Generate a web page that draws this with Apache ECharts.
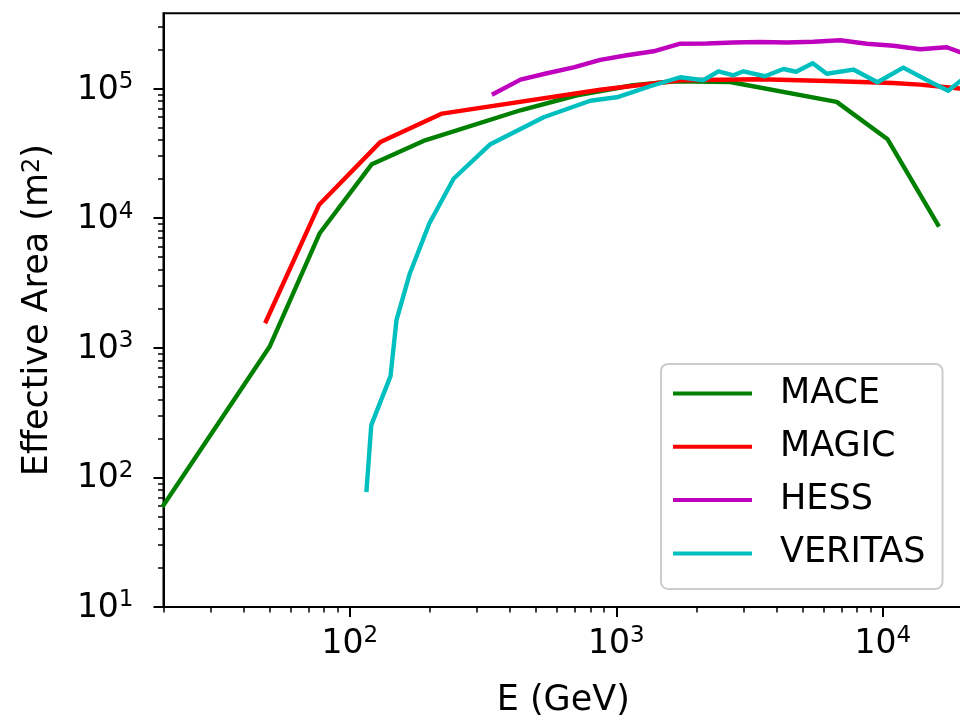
<!DOCTYPE html>
<html>
<head>
<meta charset="utf-8">
<script src="https://cdn.jsdelivr.net/npm/echarts@6/dist/echarts.min.js"></script>
<style>
  html, body { margin: 0; padding: 0; background: #ffffff; }
  #chart { width: 960px; height: 720px; }
</style>
</head>
<body>
<div id="chart"></div>
<script>
// Effective collection area of ground-based gamma-ray telescopes
const seriesNames = ['MACE', 'MAGIC', 'HESS', 'VERITAS'];
const seriesColors = ['#008000', '#ff0000', '#bf00bf', '#00bfbf'];

const maceE = [20, 50, 77, 121, 189, 437, 712, 1158, 1664, 2675, 6714, 10430, 16100];
const maceA = [61, 1016, 7600, 26060, 39370, 67900, 88640, 105900, 113600, 112200, 78800, 40550, 8900];

const magicE = [48.5, 76.6, 130.4, 222, 871, 1738, 3465, 6730, 10910, 13770, 19470, 22000];
const magicA = [1600, 12600, 38700, 63960, 97700, 115700, 117800, 113600, 110300, 107100, 99800, 98500];

const hessE = [347, 437, 550, 692, 871, 1096, 1380, 1738, 2188, 2754, 3467, 4365, 5495, 6918, 8710, 10965, 13804, 17378, 21878];
const hessA = [91000, 117100, 131000, 145600, 166300, 180300, 193600, 221300, 222000, 226000, 228300, 226000, 229000, 235300, 221300, 213400, 200500, 207800, 175300];

const veritasE = [115.6, 120.4, 142.2, 149.7, 168, 199, 245.6, 337, 534, 799, 1017, 1341, 1738, 2119, 2418, 2753, 3000, 3614, 4236, 4728, 5462, 6163, 7753, 9553, 11940, 15420, 17600, 21230];
const veritasA = [80, 253, 604, 1632, 3741, 9135, 20200, 37150, 59980, 80350, 86000, 104000, 122000, 115700, 135700, 126400, 135700, 124200, 141300, 134500, 156400, 129800, 139900, 111600, 144900, 109700, 96000, 130900];

// Axis ranges and tick positions
const xRange = [20, 20000];
const yRange = [10, 380000];
const xMajorTicks = [100, 1000, 10000];
const xMinorTicks = [20, 30, 40, 50, 60, 70, 80, 90,
  200, 300, 400, 500, 600, 700, 800, 900,
  2000, 3000, 4000, 5000, 6000, 7000, 8000, 9000, 20000];
const yMajorTicks = [10, 100, 1000, 10000, 100000];
const yMinorTicks = [20, 30, 40, 50, 60, 70, 80, 90,
  200, 300, 400, 500, 600, 700, 800, 900,
  2000, 3000, 4000, 5000, 6000, 7000, 8000, 9000,
  20000, 30000, 40000, 50000, 60000, 70000, 80000, 90000,
  200000, 300000];

const FONT = 'DejaVu Sans';
const pairs = (xs, ys) => xs.map((x, i) => [x, ys[i]]);
const seriesData = [pairs(maceE, maceA), pairs(magicE, magicA), pairs(hessE, hessA), pairs(veritasE, veritasA)];

const powRich = {
  b: { fontSize: 33, fontFamily: FONT, color: '#000', lineHeight: 36, verticalAlign: 'bottom' },
  s: { fontSize: 23, fontFamily: FONT, color: '#000', lineHeight: 22, verticalAlign: 'top' }
};
const powLabel = v => '{b|10}{s|' + Math.round(Math.log10(v)) + '}';

function majorAxis(range, ticks, extra) {
  return Object.assign({
    type: 'log', logBase: 10, min: range[0], max: range[1], gridIndex: 0,
    axisLine: { show: true, lineStyle: { color: '#000', width: 2 } },
    axisTick: { show: true, customValues: ticks, length: 10, lineStyle: { color: '#000', width: 2 } },
    axisLabel: { show: true, customValues: ticks, formatter: powLabel, rich: powRich },
    splitLine: { show: false }, minorTick: { show: false }, minorSplitLine: { show: false }
  }, extra);
}
function minorAxis(range, ticks, position) {
  return {
    type: 'log', logBase: 10, min: range[0], max: range[1], gridIndex: 0, position: position,
    axisLine: { show: false },
    axisTick: { show: true, customValues: ticks, length: 5.5, lineStyle: { color: '#000', width: 1.5 } },
    axisLabel: { show: false },
    splitLine: { show: false }
  };
}

const option = {
  animation: false,
  backgroundColor: '#ffffff',
  grid: {
    left: 163.5, top: 13.3, width: 799.5, height: 593.7,
    show: true, borderColor: '#000', borderWidth: 2, backgroundColor: 'transparent',
    containLabel: false, outerBoundsMode: 'none'
  },
  xAxis: [
    majorAxis(xRange, xMajorTicks, {
      position: 'bottom',
      name: 'E (GeV)', nameLocation: 'middle', nameGap: 76,
      nameTextStyle: { fontSize: 35, fontFamily: FONT, color: '#000' },
      axisLabel: { show: true, customValues: xMajorTicks, formatter: powLabel, rich: powRich, margin: 18 }
    }),
    minorAxis(xRange, xMinorTicks, 'bottom')
  ],
  yAxis: [
    majorAxis(yRange, yMajorTicks, {
      position: 'left',
      name: 'Effective Area (m{s|2})', nameLocation: 'middle', nameGap: 108,
      nameTextStyle: {
        fontSize: 35, fontFamily: FONT, color: '#000',
        rich: {
          s: { fontSize: 24, fontFamily: FONT, color: '#000', verticalAlign: 'top', lineHeight: 24 }
        }
      },
      axisLabel: { show: true, customValues: yMajorTicks, formatter: powLabel, rich: powRich, margin: 30 }
    }),
    minorAxis(yRange, yMinorTicks, 'left')
  ],
  legend: {
    show: true, orient: 'vertical', left: 661, top: 364,
    padding: [12, 17, 18, 12],
    itemWidth: 79, itemHeight: 4, itemGap: 18.3, icon: 'rect',
    backgroundColor: 'rgba(255,255,255,0.8)', borderColor: '#cccccc', borderWidth: 2, borderRadius: 7,
    textStyle: { fontSize: 35, fontFamily: FONT, color: '#000', padding: [0, 0, 0, 23] },
    data: seriesNames
  },
  series: seriesNames.map((name, i) => ({
    name: name, type: 'line', xAxisIndex: 0, yAxisIndex: 0,
    data: seriesData[i], showSymbol: false, symbol: 'none', clip: true,
    color: seriesColors[i],
    itemStyle: { color: seriesColors[i] },
    lineStyle: { color: seriesColors[i], width: 4.4, cap: 'square', join: 'round' },
    emphasis: { disabled: true }
  }))
};

const chart = echarts.init(document.getElementById('chart'), null, { renderer: 'canvas' });
chart.setOption(option);
</script>
</body>
</html>
